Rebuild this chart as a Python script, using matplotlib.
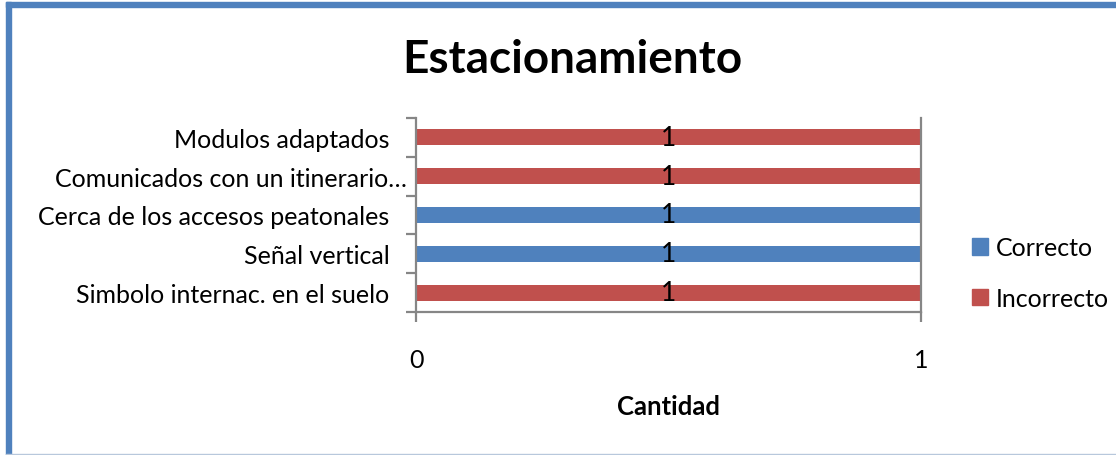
import matplotlib
matplotlib.use("Agg")
import matplotlib.pyplot as plt
from matplotlib.patches import Rectangle, Patch
from matplotlib.transforms import ScaledTranslation

categories = ["Simbolo internac. en el suelo", "Señal vertical",
              "Cerca de los accesos peatonales",
              "Comunicados con un itinerario…", "Modulos adaptados"]
correcto = [0, 1, 1, 0, 0]
incorrecto = [1, 0, 0, 1, 1]
series_names = ["Correcto", "Incorrecto"]
colors = ["#4F81BD", "#C0504D"]
title = "Estacionamiento"
xlabel = "Cantidad"
xticks = [0, 1]

plt.rcParams['font.family'] = ['Lato', 'DejaVu Sans']
W, H = 1116, 456
fig = plt.figure(figsize=(W/100, H/100), dpi=100)
fig.patch.set_facecolor("white")

# frame
fig.patches.append(Rectangle((6/W, 0), 5/W, (H-3)/H, transform=fig.transFigure,
                             color="#4F81BD", zorder=0))
fig.patches.append(Rectangle((6/W, 1-8/H), 1-6/W, 5/H, transform=fig.transFigure,
                             color="#4F81BD", zorder=0))
fig.patches.append(Rectangle((6/W, 0), 1-6/W, 1.5/H, transform=fig.transFigure,
                             color="#B8C8DC", zorder=0))

x0, x1, ytop, ybot = 416, 921, 119, 313
ax = fig.add_axes([x0/W, 1-ybot/H, (x1-x0)/W, (ybot-ytop)/H])

ypos = list(range(len(categories)))
b1 = ax.barh(ypos, correcto, height=0.41, color=colors[0], label=series_names[0], zorder=2)
b2 = ax.barh(ypos, incorrecto, left=correcto, height=0.41, color=colors[1],
             label=series_names[1], zorder=2)
for bars, vals in ((b1, correcto), (b2, incorrecto)):
    ax.bar_label(bars, labels=[str(v) if v else "" for v in vals], label_type="center",
                 fontsize=19, color="black")

ax.set_xlim(0, 1)
ax.set_ylim(-0.5, len(categories)-0.5)

gray = "#868686"
for s in ("left", "bottom", "right"):
    ax.spines[s].set_color(gray)
    ax.spines[s].set_linewidth(1.6)
ax.spines["top"].set_visible(False)

ax.set_yticks(ypos)
ax.set_yticklabels(categories, fontsize=18)
ax.tick_params(axis="y", which="major", length=0, pad=19)
ax.set_yticks([i - 0.5 for i in range(len(categories)+1)], minor=True)
ax.tick_params(axis="y", which="minor", length=7, width=1.6, color=gray, direction="out")

ax.set_xticks(xticks)
ax.set_xticklabels([str(t) for t in xticks], fontsize=18)
ax.tick_params(axis="x", length=7, width=1.6, color=gray, direction="out", pad=19)

# the truncated label sits further right in the original
lbl = ax.get_yticklabels()[3]
lbl.set_transform(lbl.get_transform() + ScaledTranslation(17/100, 0, fig.dpi_scale_trans))

ax.set_xlabel(xlabel, fontsize=18.5, fontweight="bold", va="center")
ax.xaxis.set_label_coords(0.5, ((H-407) - (H-ybot)) / (ybot-ytop))

fig.text(572/W, 1-73/H, title, ha="center", va="baseline", fontsize=33, fontweight="bold")

handles = [Patch(color=colors[0], label=series_names[0]),
           Patch(color=colors[1], label=series_names[1])]
fig.legend(handles=handles, loc="center left", bbox_to_anchor=(972/W, 1-274/H),
           frameon=False, fontsize=18, handlelength=0.64, handleheight=0.64,
           handletextpad=0.3, labelspacing=1.1, borderpad=0, borderaxespad=0)

fig.savefig("out.png", dpi=100, facecolor="white")
